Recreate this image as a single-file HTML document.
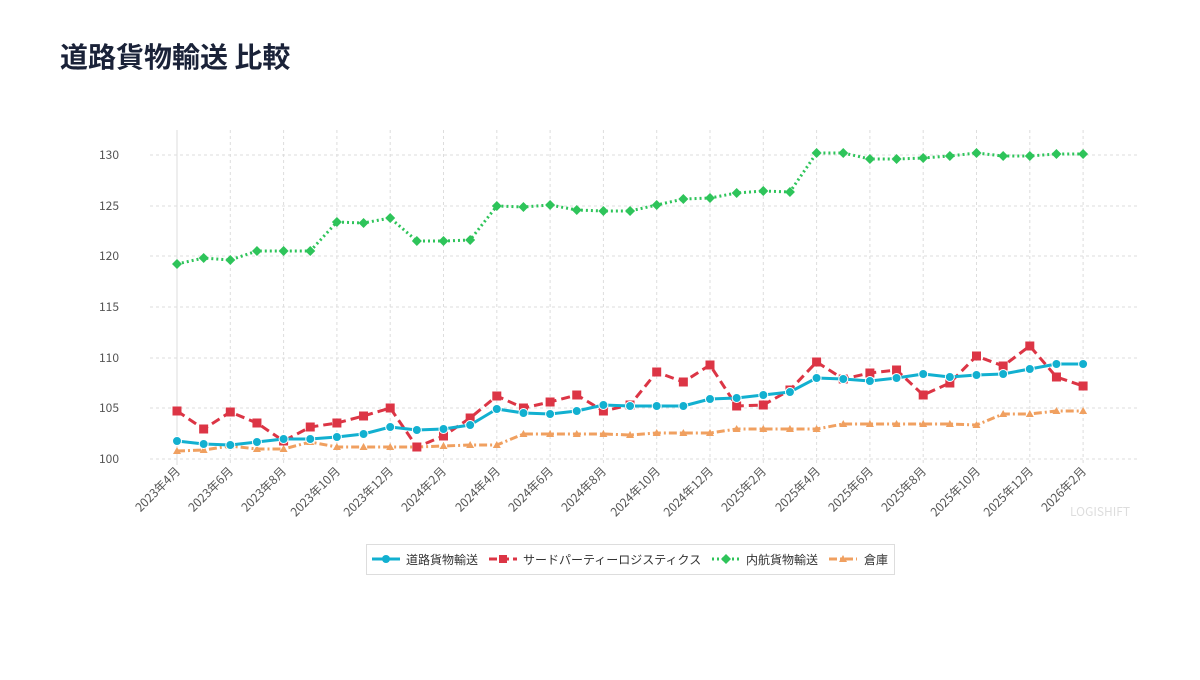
<!DOCTYPE html>
<html><head><meta charset="utf-8"><style>
body{margin:0;background:#fff;width:1200px;height:675px;overflow:hidden;font-family:"Noto Sans CJK JP",sans-serif}
</style></head><body>
<svg id="s" width="1200" height="675" xmlns="http://www.w3.org/2000/svg" font-family="Noto Sans CJK JP, sans-serif">
<text x="60" y="67" font-size="28" font-weight="bold" fill="#1a2238">道路貨物輸送 比較</text>
<g id="grid" stroke="#ddd" stroke-dasharray="3,3" stroke-width="1"></g>
<line x1="177" y1="130" x2="177" y2="465" stroke="#ddd"/>
<g font-size="12" fill="#555" text-anchor="end">
<text x="119" y="159">130</text><text x="119" y="210">125</text><text x="119" y="260">120</text>
<text x="119" y="311">115</text><text x="119" y="362">110</text><text x="119" y="412">105</text><text x="119" y="463">100</text>
</g>
<g font-size="12" fill="#555" text-anchor="end" id="xl">
<text transform="translate(181,472) rotate(-45)">2023年4月</text>
<text transform="translate(234,472) rotate(-45)">2023年6月</text>
<text transform="translate(287,472) rotate(-45)">2023年8月</text>
<text transform="translate(341,472) rotate(-45)">2023年10月</text>
<text transform="translate(394,472) rotate(-45)">2023年12月</text>
<text transform="translate(447,472) rotate(-45)">2024年2月</text>
<text transform="translate(501,472) rotate(-45)">2024年4月</text>
<text transform="translate(554,472) rotate(-45)">2024年6月</text>
<text transform="translate(607,472) rotate(-45)">2024年8月</text>
<text transform="translate(661,472) rotate(-45)">2024年10月</text>
<text transform="translate(714,472) rotate(-45)">2024年12月</text>
<text transform="translate(767,472) rotate(-45)">2025年2月</text>
<text transform="translate(821,472) rotate(-45)">2025年4月</text>
<text transform="translate(874,472) rotate(-45)">2025年6月</text>
<text transform="translate(927,472) rotate(-45)">2025年8月</text>
<text transform="translate(981,472) rotate(-45)">2025年10月</text>
<text transform="translate(1034,472) rotate(-45)">2025年12月</text>
<text transform="translate(1087,472) rotate(-45)">2026年2月</text>
</g>
<text x="1070" y="516" font-size="12" fill="#ddd">LOGISHIFT</text>
<g id="series"></g>
<rect x="366.5" y="544.5" width="528" height="30" fill="#fff" stroke="#ddd"/>
<g font-size="12" fill="#333">
<line x1="372" y1="559" x2="400" y2="559" stroke="#12b0d0" stroke-width="3"/><circle cx="386" cy="559" r="4" fill="#12b0d0"/>
<text x="406" y="564">道路貨物輸送</text>
<line x1="489" y1="559" x2="517" y2="559" stroke="#dc3545" stroke-width="3" stroke-dasharray="8,4"/><rect x="499" y="555" width="8" height="8" fill="#dc3545"/>
<text x="523" y="564">サードパーティーロジスティクス</text>
<line x1="712" y1="559" x2="740" y2="559" stroke="#2ec45a" stroke-width="3" stroke-dasharray="2,3"/><path d="M726 554l5 5-5 5-5-5z" fill="#2ec45a"/>
<text x="746" y="564">内航貨物輸送</text>
<line x1="829" y1="559" x2="857" y2="559" stroke="#f0a060" stroke-width="3" stroke-dasharray="8,3,2,3"/><path d="M843 555l4 7h-8z" fill="#f0a060"/>
<text x="864" y="564">倉庫</text>
</g>
</svg>
<script>
var NS="http://www.w3.org/2000/svg",g=document.getElementById("grid"),S=document.getElementById("series");
function el(t,a,p){var e=document.createElementNS(NS,t);for(var k in a)e.setAttribute(k,a[k]);p.appendChild(e);return e;}
[155,206,256,307,358,408,459].forEach(function(y){el("line",{x1:150,x2:1138,y1:y,y2:y},g)});
for(var i=0;i<=34;i+=2){var x=177+i*26.65;el("line",{x1:x,x2:x,y1:130,y2:465},g)}
var data=[
{c:"#2ec45a",d:"2,3",m:"d",y:[264,258,260,251,251,251,222,223,218,241,241,240,206,207,205,210,211,211,205,199,198,193,191,192,153,153,159,159,158,156,153,156,156,154,154]},
{c:"#f0a060",d:"8,3,2,3",m:"t",y:[451,450,446,449,449,442,447,447,447,447,446,445,445,434,434,434,434,435,433,433,433,429,429,429,429,424,424,424,424,424,425,414,414,411,411]},
{c:"#dc3545",d:"9,5",m:"s",y:[411,429,412,423,441,427,423,416,408,447,436,418,396,408,402,395,411,405,372,382,365,406,405,390,362,379,373,370,395,383,356,366,346,377,386]},
{c:"#12b0d0",d:"",m:"c",y:[441,444,445,442,439,439,437,434,427,430,429,425,409,413,414,411,405,406,406,406,399,398,395,392,378,379,381,378,374,377,375,374,369,364,364]}];
data.forEach(function(s){var p=s.y.map(function(y,i){return (177+i*26.65).toFixed(1)+","+y}).join(" ");
el("polyline",{points:p,fill:"none",stroke:s.c,"stroke-width":3,"stroke-dasharray":s.d,"stroke-linejoin":"round"},S);
s.y.forEach(function(y,i){var x=177+i*26.65;
if(s.m=="c")el("circle",{cx:x,cy:y,r:4.5,fill:s.c,stroke:"#fff","stroke-width":1},S);
else if(s.m=="s")el("rect",{x:x-4.5,y:y-4.5,width:9,height:9,fill:s.c},S);
else if(s.m=="d")el("path",{d:"M"+x+" "+(y-5)+"l5 5-5 5-5-5z",fill:s.c},S);
else el("path",{d:"M"+x+" "+(y-4)+"l4 7h-8z",fill:s.c},S);});});
</script>
</body></html>
